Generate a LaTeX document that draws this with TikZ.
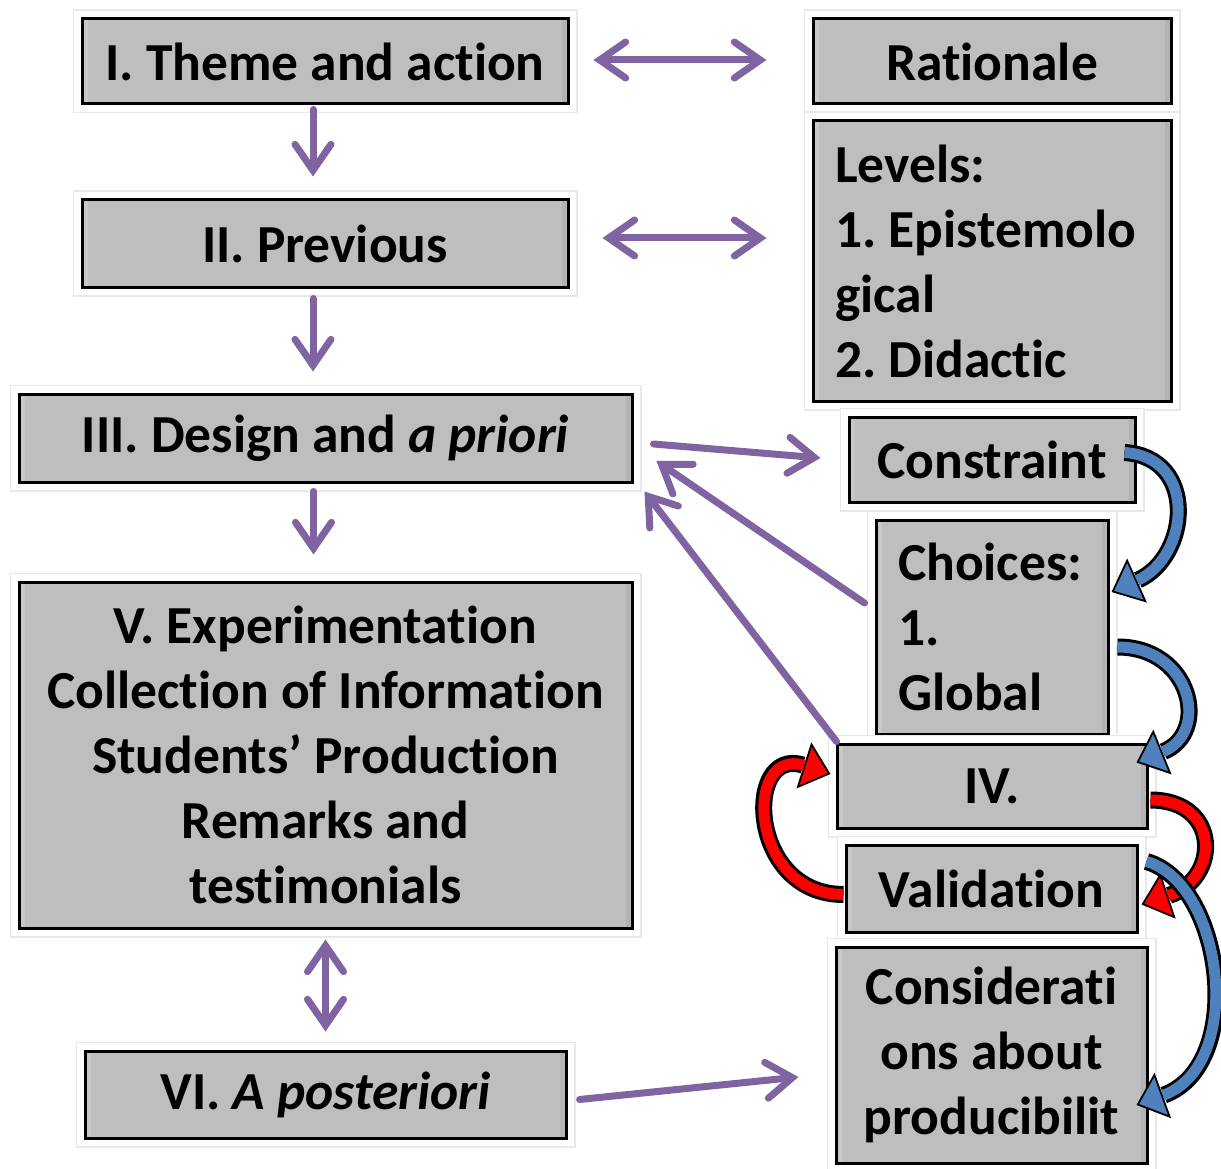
\documentclass[tikz,border=0pt]{standalone}
\usepackage{fontspec}
\setmainfont{Carlito}[RawFeature={-liga;-clig;-dlig;-calt}]
\usetikzlibrary{arrows.meta,calc}
\definecolor{boxgray}{HTML}{BEBEBE}
\definecolor{bevlight}{HTML}{C8C8C8}
\definecolor{bevdark}{HTML}{B3B3B3}
\definecolor{pur}{HTML}{8064A2}
\definecolor{cblue}{HTML}{4F81BD}
\definecolor{cred}{HTML}{FF0000}
\newcommand\blockarrow[5]{%
  \draw[black,line width=1.8pt,-{Triangle[length=28pt,width=48pt,fill=#1]}] #2 .. controls #3 and #4 .. #5;
  \draw[black,line width=17pt,shorten >=29pt] #2 .. controls #3 and #4 .. #5;
  \draw[#1,line width=11pt,shorten >=28pt] #2 .. controls #3 and #4 .. #5;
}
\begin{document}
\frenchspacing
\begin{tikzpicture}[x=1pt,y=-1pt,
  box/.style={draw=black,line width=3pt,fill=boxgray,inner sep=0pt,
    font=\frenchspacing\bfseries\fontsize{53.5}{65}\selectfont,
    preaction={draw=black!9,line width=19pt},
    preaction={draw=white,line width=16pt},
    path picture={
      \draw[bevlight,line width=5pt]
        ([shift={(3.5,3.5)}]path picture bounding box.south west) --
        ([shift={(3.5,-3.5)}]path picture bounding box.north west) --
        ([shift={(-3.5,-3.5)}]path picture bounding box.north east);
      \draw[bevdark,line width=5pt]
        ([shift={(-3.5,-3.5)}]path picture bounding box.north east) --
        ([shift={(-3.5,3.5)}]path picture bounding box.south east) --
        ([shift={(3.5,3.5)}]path picture bounding box.south west);
    }},
  parr/.style={draw=pur,line width=7pt,line cap=round,
    -{Straight Barb[length=26pt,width=36pt,line cap=round]}},
  pdarr/.style={draw=pur,line width=7pt,line cap=round,
    {Straight Barb[length=26pt,width=36pt,line cap=round]}-{Straight Barb[length=26pt,width=36pt,line cap=round]}}]
\useasboundingbox (0,0) rectangle (1221,1169);
\fill[white] (0,0) rectangle (1221,1169);

% boxes
\node[box,minimum width=486pt,minimum height=85pt] (t1) at (325,61.5) {I. Theme and action};
\node[box,minimum width=358pt,minimum height=85pt] (rat) at (992,61.5) {Rationale};
\node[box,minimum width=358pt,minimum height=280pt,text width=314pt,align=flush left] (lev) at (992,261) {Levels:\\1. Epistemolo\\gical\\2. Didactic};
\node[box,minimum width=486pt,minimum height=87pt] (t2) at (325,243.5) {II. Previous};
\node[box,minimum width=613pt,minimum height=88pt] (t3) at (325.5,438) {III. Design and \textit{a priori}};
\node[box,minimum width=286pt,minimum height=85pt] (con) at (992,459.5) {Constraint};
\node[box,minimum width=232pt,minimum height=214pt,text width=188pt,align=flush left] (cho) at (992,627) {Choices:\\1.\\Global};
\node[box,minimum width=310pt,minimum height=84pt] (iv) at (992,786) {IV.};
\node[box,minimum width=291pt,minimum height=87pt] (val) at (991.5,888.5) {Validation};
\node[box,minimum width=311pt,minimum height=216pt,text width=300pt,align=flush center] (cons) at (991.5,1055) {Considerati\\ons about\\producibilit};
\node[box,minimum width=613pt,minimum height=346pt,text width=600pt,align=flush center] (v) at (325.5,755) {V. Experimentation\\Collection of Information\\Students’ Production\\Remarks and\\testimonials};
\node[box,minimum width=481pt,minimum height=87pt] (vi) at (325.5,1094.5) {VI. \textit{A posteriori}};

% purple connectors
\draw[parr] ($(t1.south)+(-12,4)$) -- ($(t2.north)+(-12,-22)$);
\draw[parr] ($(t2.south)+(-12,10)$) -- ($(t2.south)+(-12,83)$);
\draw[parr] ($(t3.south)+(-12,8)$) -- ($(t3.south)+(-12,71)$);
\draw[pdarr] ($(t1.east)+(24,-1.5)$) -- ($(rat.west)+(-45,-1.5)$);
\draw[pdarr] ($(t2.east)+(33,-5.5)$) -- ($(lev.west)+(-45,-23)$);
\draw[parr] ($(t3.east)+(20,6)$) -- ($(con.west)+(-27,-1.5)$);
\draw[parr] ($(cho.west)+(-10,-24)$) -- ($(t3.east)+(23,23)$);
\draw[parr] ($(iv.north west)+(1,-1)$) -- ($(t3.south east)+(11,8)$);
\draw[pdarr] ($(v.south)+(0,10)$) -- ($(vi.north)+(0,-18)$);
\draw[parr] ($(vi.east)+(12,5)$) -- ($(cons.west)+(-36,22)$);

% curved block arrows
\blockarrow{cblue}{($(con.east)+(-12,-7)$)}{($(con.east)+(62,-2)$)}{($(cho.east)+(80,-70)$)}{($(cho.east)+(2,-35)$)}
\blockarrow{cblue}{($(cho.east)+(8,20)$)}{($(cho.east)+(82,20)$)}{($(iv.north east)+(62,-10)$)}{($(iv.north east)+(-12,20)$)}
\blockarrow{cred}{($(iv.east)+(2,14)$)}{($(iv.east)+(72,14)$)}{($(val.east)+(82,-10)$)}{($(val.east)+(3,16)$)}
\blockarrow{cred}{($(val.west)+(-1,6)$)}{($(val.west)+(-97,6)$)}{($(iv.west)+(-92,-40)$)}{($(iv.west)+(-5,-12)$)}
\blockarrow{cblue}{($(val.north east)+(8,18)$)}{($(val.north east)+(85,40)$)}{($(cons.east)+(98,10)$)}{($(cons.east)+(-12,50)$)}
\end{tikzpicture}
\end{document}
